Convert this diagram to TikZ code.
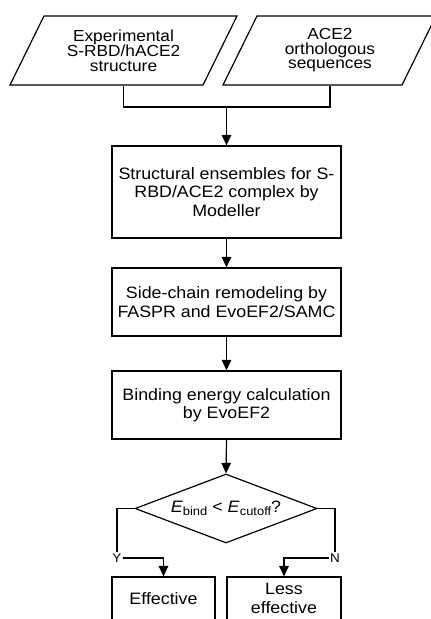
\documentclass[tikz,border=0pt]{standalone}
\usepackage{fontspec}
\setmainfont{Liberation Sans}[FakeStretch=1.08]
\usetikzlibrary{arrows.meta,shapes.geometric}
\begin{document}
\begin{tikzpicture}[x=1pt,y=-1pt, line width=1.2pt,
  box/.style={draw, rectangle, minimum width=229pt, align=center, font=\fontsize{16.5}{18.5}\selectfont, inner sep=0pt},
  ptext/.style={align=center, font=\fontsize{16}{14.5}\selectfont, minimum height=69pt, inner sep=0pt},
  arr/.style={-{Triangle[width=9.5pt,length=10.5pt]}},
  lbl/.style={font=\fontsize{12.5}{12.5}\selectfont, inner sep=1pt}]
\useasboundingbox (0,0) rectangle (431,619);
\clip (0,0) rectangle (431,619);
% input parallelograms
\draw (44,16) -- (237,16) -- (203,85) -- (10,85) -- cycle;
\draw (257,16) -- (436,16) -- (402,85) -- (223,85) -- cycle;
\node[ptext] (exp) at (123.5,50.5) {Experimental\\S-RBD/hACE2\\structure};
\node[ptext] (ace) at (330,50.5) {ACE2\\orthologous\\sequences};
% process boxes
\node[box, minimum height=92pt] (b1) at (226.5,192) {Structural ensembles for S-\\RBD/ACE2 complex by\\Modeller};
\node[box, minimum height=68pt] (b2) at (226.5,302) {Side-chain remodeling by\\FASPR and EvoEF2/SAMC};
\node[box, minimum height=68pt] (b3) at (226.5,405) {Binding energy calculation\\by EvoEF2};
\node[draw, diamond, shape aspect=2.64, minimum width=182pt, minimum height=69pt, inner sep=0pt,
      font=\fontsize{16.5}{18}\selectfont] (dec) at (226,508.5)
  {\textit{E}\raisebox{-0.3ex}{\fontsize{12}{12}\selectfont bind} < \textit{E}\raisebox{-0.3ex}{\fontsize{12}{12}\selectfont cutoff}?};
\node[box, minimum width=103pt, minimum height=43pt] (eff) at (163.5,598.5) {Effective};
\node[box, minimum width=114pt, minimum height=43pt] (less) at (284,598.5) {Less\\effective};
% labels
\node[lbl] (y) at (117,558) {Y};
\node[lbl] (n) at (335,558) {N};
% connectors
\coordinate (j) at (226.5,107);
\draw (exp.south) |- (j) -| (ace.south);
\draw[arr] (j) -- (b1.north);
\draw[arr] (b1.south) -- (b2.north);
\draw[arr] (b2.south) -- (b3.north);
\draw[arr] (b3.south) -- (dec.north);
\draw (dec.west) -| (y.north);
\draw[arr] (y.east) -| (eff.north);
\draw (dec.east) -| (n.north);
\draw[arr] (n.west) -| (less.north);
\end{tikzpicture}
\end{document}
